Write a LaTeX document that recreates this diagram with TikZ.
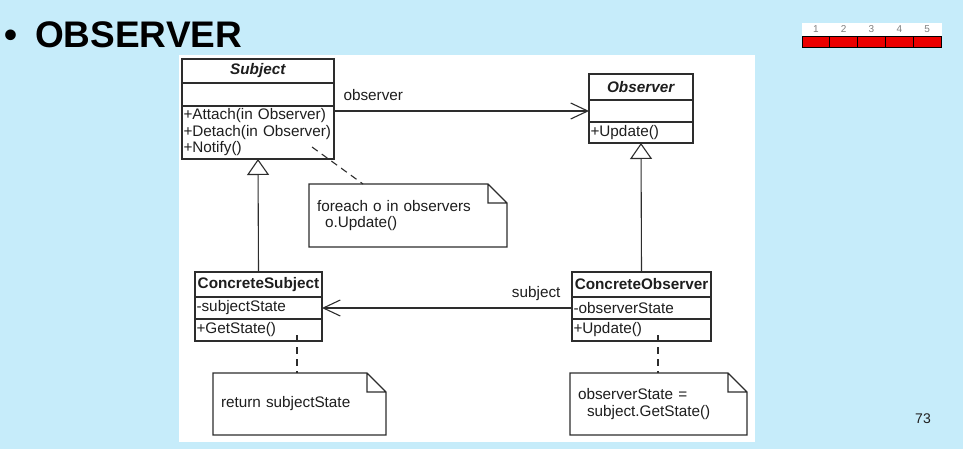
\documentclass[tikz,border=0pt]{standalone}
\usepackage{fontspec}
\setmainfont{Liberation Sans}
\usepackage{tikz}
\usetikzlibrary{%
  arrows.meta,% wg. open triangle / barb
  positioning% wg. " of "
}

\definecolor{slideblue}{RGB}{198,236,250}
\definecolor{umlline}{RGB}{45,45,45}
\definecolor{umltext}{RGB}{30,30,30}
\definecolor{barred}{RGB}{235,0,0}

\newcommand{\umlsize}{\fontsize{15.3}{16.5}\selectfont}
\newcommand{\dognote}[1]{%
  \draw[umlline,line width=1.1pt] (#1.north west) -- ([xshift=-19pt]#1.north east)
    -- ([yshift=-19pt]#1.north east) -- (#1.south east) -- (#1.south west) -- cycle
    ([xshift=-19pt]#1.north east) |- ([yshift=-19pt]#1.north east);}

\tikzset{
  umlpart/.style={draw=umlline, line width=1.1pt, outer sep=0pt, inner xsep=1.5pt,
    inner ysep=0pt, text width=#1, align=left, font=\umlsize, text=umltext},
  umlhead/.style={umlpart=#1, align=center, font=\umlsize\bfseries},
  umlnote/.style={outer sep=0pt, inner xsep=8pt, inner ysep=0pt, text width=#1,
    align=left, font=\umlsize, text=umltext},
  rolelabel/.style={font=\umlsize, text=umltext, inner sep=0pt},
  assoc/.style={draw=umlline, line width=1.1pt, -{Straight Barb[length=17pt,width=16pt]}},
  inherit/.style={draw=umlline, line width=1.1pt, -{Triangle[open,length=16pt,width=22pt]}},
  notelink/.style={draw=umlline, line width=1.1pt, dash pattern=on 7pt off 5pt},
  barbox/.style={draw=black, line width=1pt, fill=barred, minimum width=27.8pt,
    minimum height=11pt, inner sep=0pt, outer sep=0pt},
  barnum/.style={text=gray, font=\fontsize{10}{10}\selectfont, inner sep=0pt}
}

\begin{document}
\begin{tikzpicture}[x=1pt,y=-1pt]
  \useasboundingbox (0,0) rectangle (963,449);
  \fill[slideblue] (0,0) rectangle (963,449);
  \fill[white] (179,55) rectangle (755,442);

  %title
  \node[anchor=base west, inner sep=0pt, font=\fontsize{37}{37}\selectfont\bfseries] (title) at (4,48) {\textbullet\hspace{18pt}OBSERVER};

  %progress bar
  \fill[white] (802,23) rectangle (942,48);
  \node[barbox, anchor=south west] (bar1) at (802,48) {};
  \node[barbox, right=0pt of bar1] (bar2) {};
  \node[barbox, right=0pt of bar2] (bar3) {};
  \node[barbox, right=0pt of bar3] (bar4) {};
  \node[barbox, right=0pt of bar4] (bar5) {};
  \node[barnum, above=4pt of bar1] (num1) {1};
  \node[barnum, above=4pt of bar2] (num2) {2};
  \node[barnum, above=4pt of bar3] (num3) {3};
  \node[barnum, above=4pt of bar4] (num4) {4};
  \node[barnum, above=4pt of bar5] (num5) {5};

  %page number
  \node[font=\fontsize{14}{14}\selectfont, text=umltext] (pagenum) at (923,419) {73};

  %subject
  \node[umlhead=149pt, minimum height=24pt, anchor=north west] (subject-head) at (182,59) {\textit{Subject}};
  \node[umlpart=149pt, minimum height=23pt, below=0pt of subject-head] (subject-attr) {};
  \node[umlpart=149pt, minimum height=53pt, below=0pt of subject-attr] (subject-ops) {+Attach(in Observer)\\+Detach(in Observer)\\+Notify()};

  %observer
  \node[umlhead=101pt, minimum height=26pt, anchor=north west] (obs-head) at (589,74) {\textit{Observer}};
  \node[umlpart=101pt, minimum height=22pt, below=0pt of obs-head] (obs-attr) {};
  \node[umlpart=101pt, minimum height=21pt, below=0pt of obs-attr] (obs-ops) {+Update()};

  %concrete subject
  \node[umlhead=124pt, minimum height=25pt, anchor=north west] (csub-head) at (195,272) {ConcreteSubject};
  \node[umlpart=124pt, minimum height=22pt, below=0pt of csub-head] (csub-attr) {-subjectState};
  \node[umlpart=124pt, minimum height=22pt, below=0pt of csub-attr] (csub-ops) {+GetState()};

  %concrete observer
  \node[umlhead=136pt, minimum height=25pt, anchor=north west] (cobs-head) at (572,272) {ConcreteObserver};
  \node[umlpart=136pt, minimum height=22pt, below=0pt of cobs-head] (cobs-attr) {-observerState};
  \node[umlpart=136pt, minimum height=22pt, below=0pt of cobs-attr] (cobs-ops) {+Update()};

  %notes
  \node[umlnote=182pt, minimum height=63pt, anchor=north west] (note-notify) at (309,184) {foreach o in observers\\\hspace*{8pt}o.Update()};
  \node[umlnote=157pt, minimum height=62pt, anchor=north west] (note-state) at (213,373) {return subjectState};
  \node[umlnote=161pt, minimum height=62pt, anchor=north west] (note-update) at (570,373) {observerState =\\\hspace*{9pt}subject.GetState()};
  \dognote{note-notify}
  \dognote{note-state}
  \dognote{note-update}

  %associations
  \draw[assoc] (subject-ops.east |- obs-attr.west) -- node[rolelabel, anchor=base west, pos=0, xshift=9pt, yshift=10.5pt] (lbl-observer) {observer} (obs-attr.west);
  \draw[assoc] (cobs-attr.west) -- node[rolelabel, anchor=base east, pos=0, xshift=-11pt, yshift=10.5pt] (lbl-subject) {subject} (csub-attr.east);

  %generalization
  \draw[inherit] (csub-head.north) -- (subject-ops.south);
  \draw[inherit] (cobs-head.north) -- (obs-ops.south);

  %note links
  \draw[notelink] ([xshift=-22pt,yshift=12pt]subject-ops.south east) -- ([xshift=54pt]note-notify.north west);
  \draw[notelink] ([xshift=-25pt,yshift=6pt]csub-ops.south east) -- ([xshift=84pt]note-state.north west);
  \draw[notelink] ([xshift=-53pt,yshift=6pt]cobs-ops.south east) -- ([xshift=88pt]note-update.north west);
\end{tikzpicture}
\end{document}
